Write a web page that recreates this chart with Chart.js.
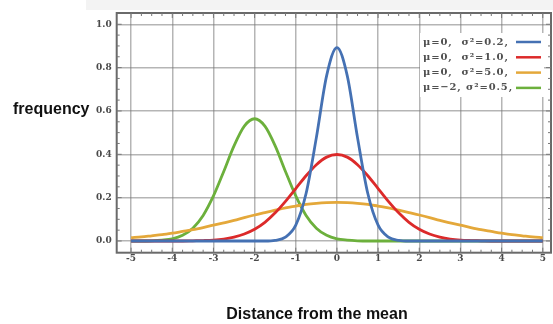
<!DOCTYPE html>
<html>
<head>
<meta charset="utf-8">
<script src="https://cdn.jsdelivr.net/npm/chart.js@4/dist/chart.umd.min.js"></script>
<style>
  html, body { margin: 0; padding: 0; background: #ffffff; }
  #wrap { position: relative; width: 553px; height: 324px; }
</style>
</head>
<body>
<div id="wrap"><canvas id="c"></canvas></div>
<script>
// ---- data ----
const xValues = [-5,-4.75,-4.5,-4.25,-4,-3.75,-3.5,-3.25,-3,-2.75,-2.5,-2.25,-2,-1.75,-1.5,-1.25,-1,-0.75,-0.5,-0.25,
                 0,0.25,0.5,0.75,1,1.25,1.5,1.75,2,2.25,2.5,2.75,3,3.25,3.5,3.75,4,4.25,4.5,4.75,5];
const blueValues = [0,0,0,0,0,0,0,0,0,0,0,0,0,0,0.003,0.018,0.073,0.219,0.477,0.763,
                    0.892,0.763,0.477,0.219,0.073,0.018,0.003,0,0,0,0,0,0,0,0,0,0,0,0,0,0];
const redValues = [0,0,0,0,0,0,0.001,0.002,0.004,0.009,0.018,0.032,0.054,0.086,0.130,0.183,0.242,0.301,0.352,0.387,
                   0.399,0.387,0.352,0.301,0.242,0.183,0.130,0.086,0.054,0.032,0.018,0.009,0.004,0.002,0.001,0,0,0,0,0,0];
const orangeValues = [0.015,0.019,0.024,0.029,0.036,0.044,0.052,0.062,0.073,0.084,0.095,0.108,0.120,0.131,0.142,0.153,0.161,0.169,0.174,0.177,
                      0.178,0.177,0.174,0.169,0.161,0.153,0.142,0.131,0.120,0.108,0.095,0.084,0.073,0.062,0.052,0.044,0.036,0.029,0.024,0.019,0.015];
const greenValues = [0,0,0.001,0.004,0.010,0.026,0.059,0.118,0.208,0.321,0.439,0.530,0.564,0.530,0.439,0.321,0.208,0.118,0.059,0.026,
                     0.010,0.004,0.001,0,0,0,0,0,0,0,0,0,0,0,0,0,0,0,0,0,0];
const seriesLabels = ["\u03bc=0,  \u03c3\u00b2=0.2,", "\u03bc=0,  \u03c3\u00b2=1.0,", "\u03bc=0,  \u03c3\u00b2=5.0,", "\u03bc=\u22122, \u03c3\u00b2=0.5,"];
const xTicks = [-5,-4,-3,-2,-1,0,1,2,3,4,5];
const yTicks = [0,0.2,0.4,0.6,0.8,1.0];
const xTitle = "Distance from the mean";
const yTitle = "frequency";

const colors = ['#4571b3', '#dc2a2a', '#e4a83a', '#6cb03c'];
const seriesValues = [blueValues, redValues, orangeValues, greenValues];

const datasets = seriesValues.map((vals, i) => ({
  label: seriesLabels[i],
  data: xValues.map((xv, j) => ({ x: xv, y: vals[j] })),
  borderColor: colors[i],
  backgroundColor: colors[i],
  borderWidth: 2.8,
  pointRadius: 0,
  fill: false,
  cubicInterpolationMode: 'monotone'
}));

const tickFont = { family: 'DejaVu Serif', size: 9, weight: 'bold' };

const decor = {
  id: 'decor',
  beforeDraw(chart) {
    const { ctx } = chart;
    ctx.save();
    ctx.fillStyle = '#f3f3f3';
    ctx.fillRect(86, 0, chart.width - 86, 10);
    ctx.restore();
  },
  afterDatasetsDraw(chart) {
    const { ctx, chartArea: a, scales: { x, y } } = chart;
    ctx.save();
    // frame
    ctx.strokeStyle = '#6a6a6a';
    ctx.lineWidth = 2;
    ctx.strokeRect(a.left, a.top, a.right - a.left, a.bottom - a.top);
    // minor ticks
    ctx.lineWidth = 1;
    ctx.strokeStyle = '#777';
    ctx.beginPath();
    for (let k = -20; k <= 20; k++) {
      const v = k / 4;
      const px = x.getPixelForValue(v);
      if (px < a.left || px > a.right) continue;
      const len = (k % 4 === 0) ? 5 : 3;
      ctx.moveTo(px, a.bottom); ctx.lineTo(px, a.bottom - len);
      ctx.moveTo(px, a.top); ctx.lineTo(px, a.top + len);
    }
    for (let k = 0; k <= 20; k++) {
      const v = k / 20;
      const py = y.getPixelForValue(v);
      const len = (k % 4 === 0) ? 5 : 3;
      ctx.moveTo(a.left, py); ctx.lineTo(a.left + len, py);
      ctx.moveTo(a.right, py); ctx.lineTo(a.right - len, py);
    }
    ctx.stroke();

    // legend (inside plot, top-right)
    const boxR = a.right - 7, boxL = boxR - 124, boxT = a.top + 20, boxB = boxT + 64;
    ctx.fillStyle = '#ffffff';
    ctx.fillRect(boxL, boxT, boxR - boxL, boxB - boxT);
    ctx.font = 'bold 10px "DejaVu Serif"';
    try { ctx.letterSpacing = '0.9px'; } catch (e) {}
    ctx.textBaseline = 'middle';
    ctx.textAlign = 'left';
    chart.data.datasets.forEach((ds, i) => {
      const cy = boxT + 9 + i * 15.3;
      ctx.fillStyle = '#505050';
      ctx.fillText(ds.label, boxL + 3, cy, 90);
      ctx.strokeStyle = ds.borderColor;
      ctx.lineWidth = 2.5;
      ctx.beginPath();
      ctx.moveTo(boxR - 28, cy); ctx.lineTo(boxR - 3, cy);
      ctx.stroke();
    });
    try { ctx.letterSpacing = '0px'; } catch (e) {}

    // axis titles
    ctx.fillStyle = '#111';
    ctx.font = 'bold 16px "Liberation Sans", Arial, sans-serif';
    ctx.textBaseline = 'alphabetic';
    ctx.textAlign = 'left';
    ctx.fillText(yTitle, 13, 114);
    ctx.textAlign = 'center';
    ctx.fillText(xTitle, 317, 319);
    ctx.restore();
  }
};

new Chart(document.getElementById('c'), {
  type: 'line',
  data: { datasets },
  plugins: [decor],
  options: {
    responsive: true,
    maintainAspectRatio: false,
    animation: false,
    layout: { padding: { top: 13, right: 2, left: 0, bottom: 0 } },
    plugins: { legend: { display: false }, tooltip: { enabled: false }, title: { display: false } },
    scales: {
      x: {
        type: 'linear',
        min: -5.35, max: 5.2,
        afterBuildTicks: s => { s.ticks = xTicks.map(v => ({ value: v })); },
        afterFit: s => { s.height = 71.3; },
        ticks: { font: tickFont, color: '#4a4a4a', padding: 1, maxRotation: 0, autoSkip: false,
                 callback: v => String(v) },
        grid: { color: 'rgba(120,120,120,0.55)', lineWidth: 1.5, drawTicks: false },
        border: { display: false }
      },
      y: {
        type: 'linear',
        min: -0.054, max: 1.052,
        afterBuildTicks: s => { s.ticks = yTicks.map(v => ({ value: v })); },
        afterFit: s => { s.width = 116.7; },
        ticks: { font: tickFont, color: '#4a4a4a', padding: 5, autoSkip: false,
                 callback: v => Number(v).toFixed(1) },
        grid: { color: 'rgba(120,120,120,0.55)', lineWidth: 1.5, drawTicks: false },
        border: { display: false }
      }
    }
  }
});
</script>
</body>
</html>
